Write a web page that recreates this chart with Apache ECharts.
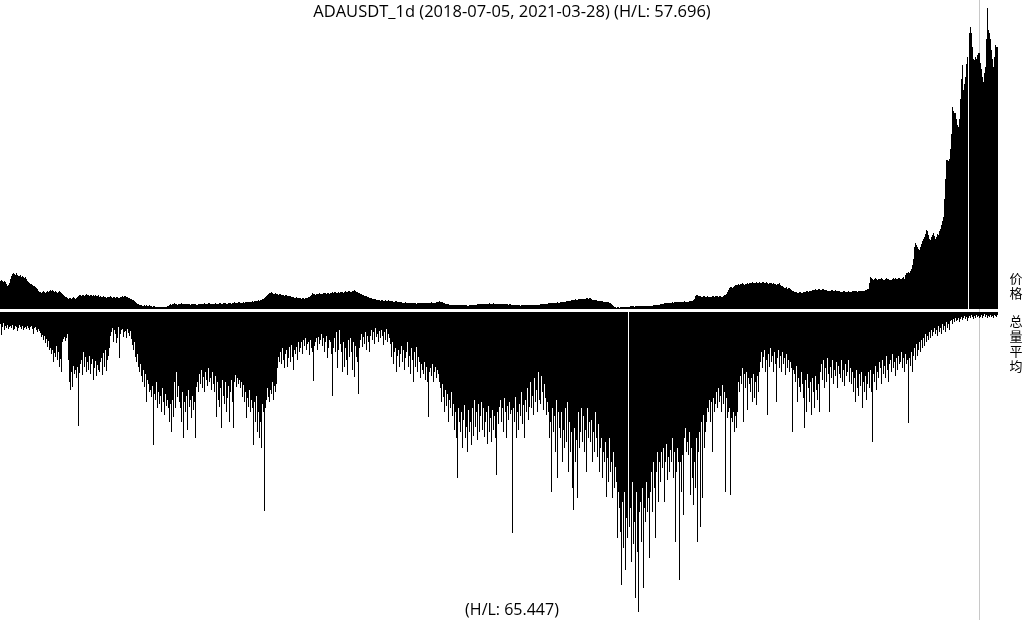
<!DOCTYPE html>
<html><head><meta charset="utf-8">
<script src="https://cdn.jsdelivr.net/npm/echarts@6/dist/echarts.min.js"></script>
<style>html,body{margin:0;padding:0;background:#fff}#c{width:1024px;height:620px}</style>
</head><body><div id="c"></div>
<script>
const chartTitle = 'ADAUSDT_1d (2018-07-05, 2021-03-28) (H/L: 57.696)';
const volTitle = '(H/L: 65.447)';
const priceLabel = '价格';
const volLabel = '总量平均';
const startDate = [2018, 6, 5];
const cursorIndex = 979;

// price (upper panel), days 0-99, 100-199, ...
const priceA = [28,29,28,27,28,27,25,23,24,26,30,33,35,36,35,34,36,34,33,33,34,32,33,32,31,32,30,28,27,26,25,25,24,23,23,22,21,20,18,17,17,16,17,18,17,16,17,18,17,18,19,18,19,18,17,18,17,16,17,18,17,16,15,14,13,12,12,11,10,11,11,10,11,12,11,10,11,12,13,14,14,13,14,14,13,14,15,14,14,13,14,14,13,14,13,14,13,13,14,12];
const priceB = [13,12,12,13,12,12,11,12,12,12,13,12,11,12,12,11,12,12,11,11,12,12,13,12,13,13,12,12,11,11,10,10,9,9,8,7,6,5,5,4,4,4,3,3,4,3,4,3,3,4,3,3,2,3,3,2,2,2,2,2,2,2,2,2,2,2,2,3,3,4,5,4,5,5,6,5,5,4,5,5,5,6,5,5,5,5,5,5,5,5,4,5,5,5,5,5,4,4,5,5];
const priceC = [5,5,5,5,6,5,5,5,6,6,5,5,5,5,5,6,5,5,5,6,6,5,5,6,6,6,5,5,6,6,6,5,6,6,7,6,6,6,7,7,6,6,6,7,6,7,7,7,7,7,7,7,8,7,8,8,8,8,9,8,9,9,10,10,11,12,13,14,15,16,16,17,16,15,15,16,15,15,14,15,15,14,14,14,13,14,14,13,13,13,13,12,12,12,11,11,12,11,11,11];
const priceD = [11,10,11,11,10,11,11,11,12,12,13,14,16,15,15,14,15,15,15,16,15,15,15,16,16,16,15,16,16,15,16,16,17,16,17,17,16,16,17,16,17,17,17,16,17,18,17,17,18,18,17,17,18,18,19,18,17,17,16,16,15,15,14,14,13,13,13,12,12,11,11,11,10,10,10,10,9,9,9,9,8,9,9,8,8,9,8,8,9,8,8,8,8,7,7,8,8,7,7,7];
const priceE = [7,7,6,6,6,7,6,6,6,6,6,6,6,6,6,6,5,6,6,6,6,6,6,6,6,6,6,6,6,6,6,7,6,6,6,6,7,7,7,8,7,7,7,6,6,5,5,5,5,4,4,4,4,4,4,4,4,4,4,4,4,4,4,4,4,4,4,3,3,4,4,4,4,4,4,4,4,5,5,5,5,5,5,5,5,5,5,5,5,6,5,5,5,6,5,5,5,5,5,5];
const priceF = [5,5,5,5,5,5,5,5,4,5,5,4,4,4,4,4,4,4,4,4,3,4,4,4,4,4,4,4,4,4,4,4,4,4,4,4,4,4,4,4,5,5,5,5,5,5,5,5,6,6,6,6,6,6,6,6,6,7,6,6,7,7,7,7,7,7,8,8,8,8,8,9,9,9,9,10,9,9,10,10,10,10,10,10,10,10,11,11,10,11,11,10,9,9,9,9,9,8,8,8];
const priceG = [8,8,8,7,7,7,7,7,7,6,6,5,4,3,2,2,1,2,2,1,2,2,2,2,2,2,2,2,2,2,3,3,3,3,2,3,3,3,3,3,3,3,3,3,3,3,3,3,3,3,3,3,3,4,4,4,4,4,4,4,5,5,5,5,6,6,6,6,6,6,6,6,7,6,7,7,7,7,7,7,7,7,7,7,8,7,7,7,7,8,8,8,8,9,10,13,14,14,13,13];
const priceH = [13,12,12,13,13,12,12,13,12,12,12,12,13,13,12,13,13,13,12,13,13,12,12,13,14,14,15,17,19,21,22,22,21,22,23,24,24,24,25,24,25,25,26,25,24,25,25,26,25,26,26,26,27,26,26,26,27,26,26,27,26,26,27,27,26,26,27,26,25,26,26,26,25,26,25,25,24,25,25,26,24,23,23,22,21,21,22,20,21,21,20,19,18,18,17,17,17,16,16,17];
const priceI = [17,16,16,17,17,17,18,18,17,18,18,18,19,19,19,20,19,19,20,20,19,19,20,20,19,19,19,18,18,18,18,19,19,18,18,19,18,18,18,18,17,17,17,18,18,17,17,17,18,17,17,17,18,18,18,18,18,17,18,18,18,18,18,18,18,19,19,20,20,26,32,31,30,29,30,31,30,29,30,30,30,31,30,29,29,30,31,30,30,29,29,29,30,31,30,31,30,30,31,31];
const priceJ = [30,30,31,32,30,34,36,36,37,36,38,40,44,50,62,66,64,62,60,59,62,65,68,70,72,75,79,78,74,70,69,72,74,76,73,70,72,75,74,78,80,84,88,92,110,130,149,149,148,150,160,175,202,198,196,196,190,184,182,190,210,230,244,219,225,232,245,252,0,276,282,276,262,250,249,252,250,254,256,256,246,240,232,227,236,242,270,301,279,276,270,259,250,242,252,264,262,262];

// volume average (lower panel), same day chunks
const volA = [12,23,15,11,18,14,16,13,17,15,14,16,13,18,17,14,15,19,16,13,15,17,14,18,16,15,17,14,16,18,15,14,17,22,16,15,18,20,17,19,21,25,23,28,24,31,27,35,29,38,36,42,38,50,41,45,34,48,40,55,47,60,30,27,25,29,26,22,48,70,78,60,75,54,62,58,66,55,114,61,52,48,63,40,55,45,60,50,58,44,62,52,47,68,56,49,64,53,58,60];
const volB = [50,46,63,41,55,38,59,48,44,36,24,20,16,30,18,22,31,26,15,46,22,18,17,25,20,19,26,17,21,24,19,27,33,38,30,45,50,42,55,60,52,64,70,58,75,62,90,68,72,80,78,85,74,133,82,88,70,96,80,92,84,100,76,90,103,82,94,88,96,110,92,120,88,105,70,96,60,85,74,90,96,110,80,126,90,100,84,118,78,95,88,106,84,98,90,126,75,70,80,62];
const volC = [72,58,76,65,80,60,68,74,56,70,66,78,60,72,80,64,105,70,88,95,76,116,68,84,92,70,100,86,74,110,80,68,90,116,70,63,75,66,72,68,76,70,85,73,90,80,106,86,95,78,100,88,96,133,90,110,84,120,100,126,110,136,92,100,199,96,88,76,85,90,78,82,70,88,74,80,72,56,45,50,40,52,36,48,56,42,38,55,46,35,50,33,45,58,38,42,35,48,30,40];
const volD = [36,30,42,28,34,26,38,32,30,43,28,36,40,69,34,30,26,38,25,32,28,22,34,26,40,30,24,46,36,28,30,42,84,36,26,40,20,56,38,18,32,40,60,30,55,36,48,63,28,45,26,40,58,30,65,34,45,50,82,36,28,22,35,25,32,20,38,24,30,40,24,18,28,20,32,16,25,22,30,19,26,18,24,33,20,28,17,30,22,26,32,45,30,52,40,36,60,44,38,55];
const volE = [42,34,50,38,58,46,40,30,55,44,62,36,48,70,40,55,35,60,45,50,66,52,58,62,50,68,55,70,105,60,56,64,52,70,60,55,66,58,62,70,76,90,72,85,100,78,94,82,110,88,96,80,104,92,118,100,126,166,96,110,120,100,136,108,93,126,115,140,98,120,110,133,96,124,88,115,100,128,92,120,104,90,118,96,125,110,100,132,94,120,106,130,98,118,104,126,163,100,112,95];
const volF = [88,110,96,120,86,100,126,94,108,90,102,98,221,96,110,85,126,100,118,92,104,80,112,93,126,88,100,76,108,95,70,96,84,103,66,90,78,100,60,88,92,64,80,98,72,86,103,90,100,126,110,180,96,120,104,140,88,166,100,116,126,100,150,118,136,96,130,90,160,110,140,120,176,198,116,150,128,186,100,136,120,96,130,104,140,118,160,96,126,110,130,108,150,120,140,100,126,145,112,160];
const volG = [136,126,166,140,150,130,185,146,170,126,160,150,186,140,176,155,170,226,180,196,220,273,190,236,180,258,206,226,0,215,196,250,170,232,210,286,180,240,300,200,190,230,176,276,196,210,170,200,186,246,180,160,200,150,176,226,160,140,190,150,170,140,156,136,190,150,132,168,145,160,138,150,126,166,140,230,160,136,150,268,150,180,143,203,126,116,140,130,143,120,183,136,166,193,150,176,126,230,140,120];
const volH = [215,110,186,103,136,120,110,96,100,88,110,90,140,86,100,92,80,96,76,90,84,100,73,92,80,180,86,106,100,96,183,106,110,100,120,104,116,100,70,80,64,72,56,110,62,76,60,98,66,72,80,66,90,62,86,70,93,64,80,60,50,40,56,45,38,60,48,103,42,55,36,50,44,60,40,52,90,46,38,56,44,60,40,52,46,63,42,56,48,60,50,56,120,58,62,70,54,90,66,75];
const volI = [80,60,72,86,116,68,100,62,76,90,70,103,66,80,96,64,78,88,72,100,60,52,68,48,76,56,70,46,62,100,55,66,48,72,58,64,50,76,54,62,66,48,70,58,74,52,64,60,48,70,56,72,60,80,66,90,58,76,84,62,74,60,96,70,80,64,88,72,60,76,58,80,130,62,70,54,78,60,66,50,56,72,48,62,54,66,44,58,70,52,48,60,42,56,50,64,46,58,44,52];
const volJ = [50,40,56,46,60,42,52,48,111,46,54,40,60,44,36,48,32,44,38,30,40,28,36,26,34,22,30,24,28,20,26,18,24,20,16,22,18,24,14,20,16,22,12,18,14,20,10,16,12,18,9,8,12,7,10,6,9,8,6,10,7,5,8,6,4,7,5,9,6,4,6,3,5,7,4,6,3,5,4,6,5,3,6,4,2,5,3,6,4,5,3,5,4,6,3,4,5,3];

const price = [].concat(priceA, priceB, priceC, priceD, priceE, priceF, priceG, priceH, priceI, priceJ);
const vol = [].concat(volA, volB, volC, volD, volE, volF, volG, volH, volI, volJ);
const dates = price.map((_, i) => new Date(Date.UTC(startDate[0], startDate[1], startDate[2] + i)).toISOString().slice(0, 10));

const chart = echarts.init(document.getElementById('c'), null, {renderer: 'canvas'});
const N = dates.length;
chart.setOption({
  animation: false,
  backgroundColor: '#fff',
  grid: [
    {left: 0, top: 0, width: N, height: 309},
    {left: 0, top: 312, width: N, height: 308}
  ],
  xAxis: [
    {type: 'category', gridIndex: 0, data: dates, show: false},
    {type: 'category', gridIndex: 1, data: dates, show: false}
  ],
  yAxis: [
    {type: 'value', gridIndex: 0, min: 0, max: 309, show: false},
    {type: 'value', gridIndex: 1, min: 0, max: 308, inverse: true, show: false}
  ],
  series: [
    {type: 'bar', name: priceLabel, xAxisIndex: 0, yAxisIndex: 0, data: price, barCategoryGap: '0%', itemStyle: {color: '#000'}, silent: true},
    {type: 'bar', name: volLabel, xAxisIndex: 1, yAxisIndex: 1, data: vol, barCategoryGap: '0%', itemStyle: {color: '#000'}, silent: true}
  ],
  graphic: [
    {type: 'line', z: 0, shape: {x1: cursorIndex + 0.5, y1: 0, x2: cursorIndex + 0.5, y2: 620}, style: {stroke: '#c8c8c8', lineWidth: 1}},
    {type: 'text', z: 10, x: 512, y: 12, style: {text: chartTitle, fill: '#000', font: '16.5px "Open Sans"', align: 'center', verticalAlign: 'middle'}},
    {type: 'text', z: 10, x: 512, y: 610, style: {text: volTitle, fill: '#000', font: '16px "Open Sans"', align: 'center', verticalAlign: 'middle'}},
    {type: 'text', z: 10, x: 1016, y: 286, style: {text: priceLabel.split('').join('\n'), fill: '#000', font: '13px "Noto Sans CJK SC"', lineHeight: 15, align: 'center', verticalAlign: 'middle'}},
    {type: 'text', z: 10, x: 1016, y: 344, style: {text: volLabel.split('').join('\n'), fill: '#000', font: '13px "Noto Sans CJK SC"', lineHeight: 15, align: 'center', verticalAlign: 'middle'}}
  ]
});
</script>
</body></html>
